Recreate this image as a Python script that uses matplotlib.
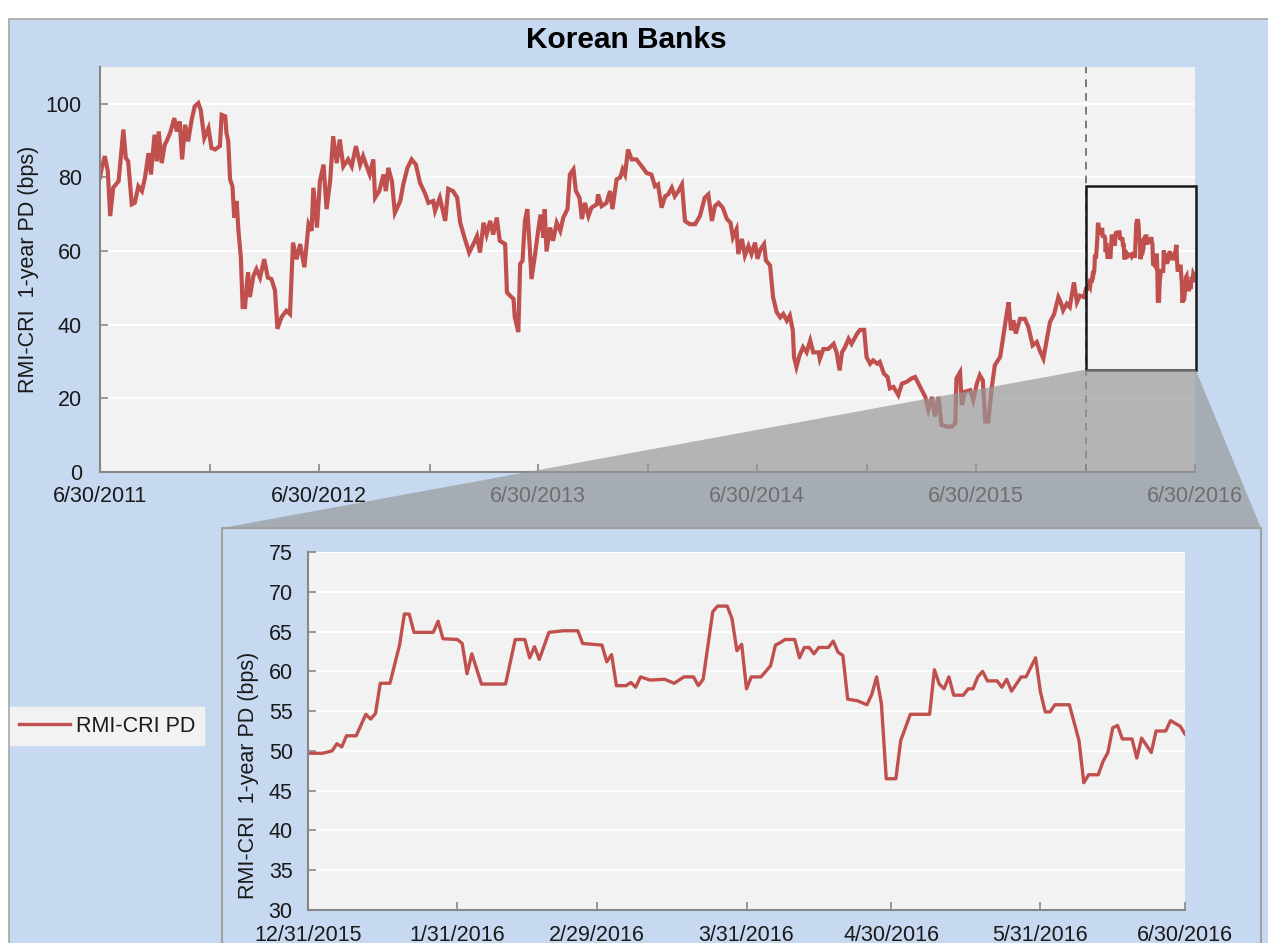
import numpy as np
import pandas as pd
import matplotlib
matplotlib.use('Agg')
import matplotlib.pyplot as plt
from matplotlib.patches import Rectangle, Polygon
from matplotlib.lines import Line2D

plt.rcParams['font.family'] = ['Liberation Sans', 'DejaVu Sans']

# full history up to the zoom window: days since 6/30/2011, 1-year PD (bps)
hist_day = [0, 3, 8, 13, 17, 22, 31, 39, 43, 47, 53, 58, 64, 70, 75, 81, 85, 91, 95, 98,
            103, 108, 111, 117, 124, 128, 133, 137, 142, 147, 153, 158, 164, 168, 174, 181, 186, 192, 200, 203,
            209, 211, 214, 217, 221, 224, 228, 231, 235, 238, 242, 245, 247, 250, 256, 261, 267, 274, 280, 286,
            292, 296, 303, 311, 317, 322, 328, 334, 341, 348, 353, 356, 362, 367, 373, 378, 384, 389, 395, 400,
            406, 414, 420, 427, 434, 439, 445, 450,
            456, 459, 466, 473, 477, 481, 487, 492, 501, 506, 513, 520, 527, 534, 542, 548, 556, 559, 567, 576,
            581, 589, 596, 601, 609, 616, 623, 629, 634, 640, 645, 651, 656, 662, 667, 676, 679, 684, 690, 692,
            698, 701, 705, 709, 713, 717, 720, 726, 731, 735, 740, 742, 745, 751, 756, 762, 768, 773, 780, 784,
            790, 794, 800, 804, 809, 815, 820, 829, 831, 837, 845, 851, 855, 862, 868, 872, 876, 881, 887, 895,
            904,
            912, 920, 926, 931, 937, 943, 948, 954, 959, 965, 971, 976, 984, 993, 1001, 1009, 1015, 1021, 1026, 1032,
            1039, 1046, 1052, 1056, 1062, 1065, 1071, 1076, 1082, 1087, 1093, 1097, 1102, 1108, 1111, 1118, 1123,
            1129, 1135, 1140, 1146, 1151, 1156, 1158, 1162, 1167, 1173, 1179, 1185, 1190, 1199, 1201, 1207, 1215,
            1224, 1229, 1234, 1238, 1243, 1249, 1254, 1263, 1268, 1275, 1279, 1285, 1290, 1297, 1301, 1308, 1314,
            1318, 1324, 1332, 1338, 1346, 1354, 1360, 1367,
            1377, 1382, 1388, 1393, 1399, 1404, 1413, 1421, 1427, 1429, 1435, 1438, 1443, 1452, 1457, 1463, 1468,
            1473, 1477, 1482, 1488, 1493, 1502, 1507, 1512, 1516, 1520, 1524, 1528, 1535, 1543, 1549, 1556, 1563,
            1568, 1574, 1580, 1585, 1592, 1599, 1603, 1607, 1613, 1618, 1625, 1630, 1635, 1642]
hist_pd = [80.0, 82.6, 85.8, 81.7, 69.5, 77.2, 79.0, 93.0, 85.3, 84.4, 72.7, 73.1, 77.6, 76.3, 79.9, 86.6, 80.8, 91.6, 84.4, 92.5,
           83.9, 88.9, 89.8, 92.1, 96.1, 92.5, 95.2, 84.9, 94.3, 89.8, 95.7, 99.3, 100.2, 98.4, 90.7, 93.4, 88.0, 87.6, 88.5, 97.0,
           96.6, 92.1, 89.8, 79.5, 77.6, 69.1, 73.6, 65.5, 58.3, 44.8, 44.8, 51.1, 54.2, 47.5, 53.3, 55.1, 52.8, 57.8, 52.8, 52.4,
           49.3, 38.9, 42.1, 43.8, 42.9, 62.3, 57.8, 61.9, 55.6, 67.3, 65.5, 77.2, 66.4, 79.0, 83.5, 71.4, 79.0, 91.2, 83.9, 90.3,
           83.0, 84.9, 83.0, 88.5, 83.5, 85.8, 83.0, 80.8,
           84.9, 74.5, 76.3, 80.8, 76.3, 82.6, 79.0, 70.4, 73.6, 78.1, 82.6, 84.9, 83.5, 78.5, 75.8, 73.1, 73.6, 70.9, 74.5, 68.2,
           76.9, 76.3, 74.5, 67.7, 63.2, 59.6, 61.9, 64.1, 59.6, 67.7, 64.5, 68.2, 64.5, 69.1, 62.8, 61.9, 48.8, 47.9, 47.0, 42.1,
           38.0, 56.5, 57.4, 68.2, 71.4, 61.0, 52.4, 59.2, 65.5, 69.9, 63.6, 71.4, 59.9, 66.4, 62.8, 67.7, 65.5, 69.1, 71.4, 80.8,
           82.2, 76.3, 74.5, 68.7, 73.1, 69.5, 71.8, 72.7, 75.4, 72.2, 73.1, 76.3, 71.4, 79.5, 80.0, 82.2, 80.8, 87.6, 84.9, 84.9,
           83.0,
           81.2, 80.8, 77.6, 78.1, 71.8, 74.9, 75.4, 77.2, 74.9, 76.3, 78.1, 68.2, 67.3, 67.3, 69.5, 74.5, 75.4, 68.2, 72.2, 73.1,
           71.8, 68.7, 67.7, 63.7, 65.9, 59.2, 63.3, 58.8, 61.4, 59.2, 62.3, 57.9, 60.5, 61.9, 57.5, 56.1, 47.5,
           43.4, 42.0, 42.9, 41.1, 42.5, 38.4, 31.2, 28.5, 31.6, 33.9, 32.5, 35.7, 32.5, 32.5, 30.7, 33.4, 33.4,
           34.8, 32.5, 27.6, 32.5, 33.9, 36.2, 34.8, 37.5, 38.6, 38.6, 31.2, 29.4, 30.3, 29.4, 29.9, 26.7, 25.8,
           22.7, 23.1, 20.9, 24.0, 24.5, 25.4, 25.8, 23.6,
           20.4, 16.9, 20.4, 15.1, 20.4, 12.8, 12.3, 12.3, 13.2, 25.4, 27.1, 18.2, 21.8, 22.2, 19.5, 24.0, 26.3,
           24.9, 13.7, 13.7, 23.1, 29.0, 31.3, 36.7, 42.1, 46.1, 38.5, 41.2, 37.6, 41.6, 41.6, 39.4, 34.4, 35.3,
           33.0, 30.8, 36.2, 40.7, 42.9, 47.5, 46.1, 43.9, 45.7, 44.8, 51.5, 46.1, 47.9, 47.5]

# zoom window: days since 12/31/2015
zoom_day = [0, 3, 5, 6, 7, 8, 10, 12, 13, 14, 15, 17, 19, 20, 21, 22, 26, 27, 28, 31,
            32, 33, 34, 36, 41, 43, 45, 46, 47, 48, 50, 53, 56, 57, 59, 61, 62, 63, 64, 66,
            67, 68, 69, 71, 74, 76, 78, 80, 81, 82, 84, 85, 87, 88, 89, 90, 91, 92, 94, 96,
            97, 98, 99, 101, 102, 103, 104, 105, 106, 108, 109, 110, 111, 112, 114, 116, 117, 118, 119, 120,
            122, 123, 125, 129, 130, 131, 132, 133, 134, 136, 137, 138, 139, 140, 141, 143, 144, 145, 146, 148,
            149, 151, 152, 153, 154, 155, 158, 160, 161, 162, 164, 165, 166, 167, 168, 169, 171, 172, 173, 175,
            176, 178, 179, 181, 182]
zoom_pd = [49.7, 49.7, 50.0, 50.9, 50.5, 51.9, 51.9, 54.6, 54.0, 54.7, 58.5, 58.5, 63.3, 67.2, 67.2, 64.9, 64.9, 66.3, 64.1, 64.0,
           63.5, 59.7, 62.2, 58.4, 58.4, 64.0, 64.0, 61.7, 63.1, 61.5, 64.9, 65.1, 65.1, 63.5, 63.4, 63.3, 61.2, 62.1, 58.2, 58.2,
           58.6, 58.0, 59.3, 58.9, 59.0, 58.5, 59.3, 59.3, 58.2, 59.0, 67.5, 68.2, 68.2, 66.6, 62.6, 63.4, 57.8, 59.3, 59.3, 60.7,
           63.3, 63.6, 64.0, 64.0, 61.7, 63.0, 63.0, 62.2, 63.0, 63.0, 63.8, 62.4, 62.0, 56.5, 56.3, 55.8, 57.1, 59.3, 55.9, 46.5,
           46.5, 51.3, 54.6, 54.6, 60.2, 58.4, 57.8, 59.3, 57.0, 57.0, 57.8, 57.8, 59.3, 60.0, 58.8, 58.8, 58.0, 59.0, 57.5, 59.3,
           59.3, 61.7, 57.4, 54.9, 54.9, 55.8, 55.8, 51.3, 46.0, 47.0, 47.0, 48.7, 49.8, 52.9, 53.2, 51.5, 51.5, 49.1, 51.6, 49.8,
           52.5, 52.5, 53.8, 53.1, 52.1]

hist_start = '2011-06-30'
zoom_start = '2015-12-31'
zoom_end = '2016-06-30'

top_ticks = ['2011-06-30', '2011-12-31', '2012-06-30', '2012-12-31', '2013-06-30', '2013-12-31',
             '2014-06-30', '2014-12-31', '2015-06-30', '2015-12-31', '2016-06-30']
top_tick_labels = ['6/30/2011', '', '6/30/2012', '', '6/30/2013', '', '6/30/2014', '', '6/30/2015', '', '6/30/2016']
zoom_ticks = ['2015-12-31', '2016-01-31', '2016-02-29', '2016-03-31', '2016-04-30', '2016-05-31', '2016-06-30']
zoom_tick_labels = ['12/31/2015', '1/31/2016', '2/29/2016', '3/31/2016', '4/30/2016', '5/31/2016', '6/30/2016']

RED = '#c0504d'
BLUE = '#c6d9f0'
PLOT_BG = '#f2f2f2'
SPINE = '#868686'
TXT = '#1a1a1a'
FS = 15.5

hist_dates = pd.Timestamp(hist_start) + pd.to_timedelta(hist_day, unit='D')
zoom_dates = pd.Timestamp(zoom_start) + pd.to_timedelta(zoom_day, unit='D')
all_dates = hist_dates.append(zoom_dates)
all_pd = hist_pd + zoom_pd

W, H = 1268, 943
fig = plt.figure(figsize=(W / 100, H / 100), dpi=100)
fig.patch.set_facecolor('white')

# blue chart area
fig.add_artist(Rectangle((9 / W, -0.01), 1.0, 1 - 19 / H + 0.01, transform=fig.transFigure,
                         facecolor=BLUE, edgecolor='#a6a6a6', linewidth=1.2, zorder=-2))


def style_axes(ax, pad_y, pad_x):
    ax.set_facecolor(PLOT_BG)
    for s in ['top', 'right']:
        ax.spines[s].set_visible(False)
    for s in ['left', 'bottom']:
        ax.spines[s].set_color(SPINE)
        ax.spines[s].set_linewidth(1.5)
    ax.grid(axis='y', color='white', linewidth=1.6)
    ax.set_axisbelow(True)
    ax.tick_params(axis='both', direction='in', length=6, color=SPINE, width=1.2,
                   labelsize=FS, labelcolor=TXT)
    ax.tick_params(axis='y', pad=pad_y)
    ax.tick_params(axis='x', pad=pad_x)


# main chart
ax = fig.add_axes([100 / W, 1 - 472 / H, 1095 / W, 405 / H])
style_axes(ax, 13, 10)
ax.plot(all_dates, all_pd, color=RED, linewidth=3.0, solid_joinstyle='miter')
ax.set_xlim(pd.Timestamp(hist_start), pd.Timestamp(zoom_end))
ax.set_ylim(0, 110)
ax.set_yticks(range(0, 101, 20))
ax.set_xticks(pd.to_datetime(top_ticks))
ax.set_xticklabels(top_tick_labels)
ax.set_ylabel('RMI-CRI  1-year PD (bps)', fontsize=FS, color=TXT)
ax.yaxis.set_label_coords(-0.056, 0.5)
ax.axvline(pd.Timestamp(zoom_start), color='#595959', linestyle=(0, (5, 4)), linewidth=1.1)
x0 = pd.Timestamp(zoom_start)
x1 = pd.Timestamp(zoom_end) + pd.Timedelta(days=1)
ax.add_patch(Rectangle((x0, 27.8), x1 - x0, 50, facecolor='none', edgecolor='#1a1a1a',
                       linewidth=1.8, clip_on=False, zorder=4))

fig.text(626 / W, 1 - 40 / H, 'Korean Banks', ha='center', va='center',
         fontsize=21.5, fontweight='bold', color='black')

# inset frame
fr_left, fr_right, fr_top = 222 / W, 1261 / W, 1 - 528 / H
fig.add_artist(Rectangle((fr_left, -0.02), fr_right - fr_left, fr_top + 0.02, transform=fig.transFigure,
                         facecolor=BLUE, edgecolor='#a0a0a0', linewidth=1.5, zorder=6))

# zoom connector
fig.canvas.draw()
to_fig = ax.transData + fig.transFigure.inverted()
bl = to_fig.transform((ax.xaxis.convert_units(x0), 27.8))
br = to_fig.transform((ax.xaxis.convert_units(x1), 27.8))
fig.add_artist(Polygon([bl, br, (fr_right, fr_top), (fr_left, fr_top)], closed=True,
                       transform=fig.transFigure, facecolor='#979797', alpha=0.68,
                       edgecolor='none', zorder=5))

# inset chart
axz = fig.add_axes([308 / W, 1 - 910 / H, 877 / W, 358 / H], zorder=7)
style_axes(axz, 11, 11)
axz.plot(zoom_dates, zoom_pd, color=RED, linewidth=2.4)
axz.set_xlim(pd.Timestamp(zoom_start), pd.Timestamp(zoom_end))
axz.set_ylim(30, 75)
axz.set_yticks(range(30, 76, 5))
axz.set_xticks(pd.to_datetime(zoom_ticks))
axz.set_xticklabels(zoom_tick_labels)
axz.set_ylabel('RMI-CRI  1-year PD (bps)', fontsize=FS, color=TXT)
axz.yaxis.set_label_coords(-0.056, 0.377)

# legend
handle = Line2D([], [], color=RED, linewidth=2.4)
leg = fig.legend([handle], ['RMI-CRI PD'], loc='center left', bbox_to_anchor=(10 / W, 1 - 726 / H),
                 fontsize=FS, frameon=True, fancybox=False, facecolor=PLOT_BG, edgecolor=PLOT_BG,
                 framealpha=1, handlelength=2.4, handletextpad=0.25, borderpad=0.4, borderaxespad=0)
for t in leg.get_texts():
    t.set_color(TXT)

fig.savefig('out.png', dpi=100, facecolor=fig.get_facecolor())
